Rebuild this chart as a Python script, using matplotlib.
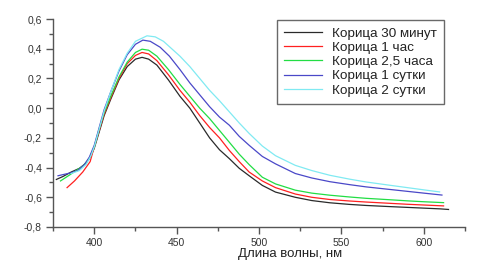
import matplotlib
matplotlib.use("Agg")
import matplotlib.pyplot as plt
from matplotlib.ticker import MultipleLocator, FuncFormatter

plt.rcParams["font.family"] = ["Liberation Sans", "DejaVu Sans"]

# =========================================================
# DATA
# =========================================================

labels = ["Корица 30 минут", "Корица 1 час", "Корица 2,5 часа",
          "Корица 1 сутки", "Корица 2 сутки"]
colors = ["#2a2a2a", "#ff2020", "#22dd44", "#4a48c8", "#80eaf2"]

wl_30min = [377, 381, 386, 391, 395, 398, 400, 403, 406, 410, 415, 420, 425,
            429, 433, 438, 445, 452, 458, 464, 470, 476, 482, 488, 494, 502,
            510, 522, 532, 543, 555, 565, 580, 590, 600, 610, 615]
ab_30min = [-0.48, -0.46, -0.43, -0.405, -0.37, -0.32, -0.27, -0.16, -0.05,
            0.06, 0.19, 0.28, 0.33, 0.342, 0.33, 0.29, 0.19, 0.08, -0.0,
            -0.1, -0.2, -0.28, -0.34, -0.405, -0.455, -0.52, -0.565, -0.6,
            -0.622, -0.637, -0.648, -0.655, -0.663, -0.668, -0.673, -0.678,
            -0.682]

wl_1h = [383.5, 388, 393, 397.5, 400, 403, 406, 410, 415, 420, 425, 429, 433,
         438, 445, 452, 458, 464, 470, 476, 482, 488, 494, 502, 510, 522, 532,
         543, 555, 565, 580, 590, 600, 612]
ab_1h = [-0.535, -0.49, -0.43, -0.36, -0.26, -0.15, -0.04, 0.07, 0.2, 0.3,
         0.355, 0.375, 0.365, 0.32, 0.225, 0.12, 0.04, -0.05, -0.13, -0.2,
         -0.285, -0.36, -0.43, -0.49, -0.535, -0.578, -0.6, -0.615, -0.625,
         -0.632, -0.641, -0.647, -0.652, -0.658]

wl_25h = [379.5, 385, 389, 393, 397, 400, 403, 406, 410, 415, 420, 425, 429,
          433, 438, 445, 452, 458, 464, 470, 476, 482, 488, 494, 502, 510, 522,
          532, 543, 555, 565, 580, 590, 600, 612]
ab_25h = [-0.49, -0.45, -0.42, -0.39, -0.34, -0.26, -0.14, -0.03, 0.08, 0.21,
          0.31, 0.375, 0.397, 0.39, 0.35, 0.26, 0.16, 0.08, 0.0, -0.07, -0.15,
          -0.23, -0.31, -0.38, -0.465, -0.51, -0.552, -0.572, -0.586, -0.598,
          -0.607, -0.617, -0.624, -0.63, -0.636]

wl_1d = [378, 382, 386, 390, 394, 397, 400, 403, 406, 410, 415, 420, 425,
         429.5, 434, 440, 445.6, 452, 458, 464, 470, 476, 482, 488, 494, 502,
         510, 522, 532, 543, 555, 565, 580, 590, 600, 611]
ab_1d = [-0.455, -0.445, -0.435, -0.42, -0.38, -0.33, -0.25, -0.13, -0.01,
         0.11, 0.25, 0.36, 0.43, 0.458, 0.45, 0.41, 0.35, 0.26, 0.17, 0.09,
         0.01, -0.06, -0.115, -0.19, -0.25, -0.325, -0.375, -0.44, -0.47,
         -0.495, -0.515, -0.53, -0.548, -0.56, -0.572, -0.585]

wl_2d = [386, 391, 395, 398, 400, 403, 406, 410, 415, 420, 425, 432, 437, 442,
         446, 452, 458, 464, 470, 476, 482, 488, 494, 502, 510, 522, 532, 543,
         555, 565, 580, 590, 600, 609.6]
ab_2d = [-0.44, -0.42, -0.38, -0.32, -0.26, -0.14, -0.02, 0.11, 0.26, 0.37,
         0.45, 0.487, 0.48, 0.45, 0.41, 0.35, 0.28, 0.2, 0.12, 0.05, -0.025,
         -0.1, -0.17, -0.255, -0.32, -0.385, -0.42, -0.452, -0.478, -0.497,
         -0.52, -0.535, -0.55, -0.564]

series = [(wl_30min, ab_30min), (wl_1h, ab_1h), (wl_25h, ab_25h),
          (wl_1d, ab_1d), (wl_2d, ab_2d)]

# =========================================================
# PLOT
# =========================================================

fig = plt.figure(figsize=(4.96, 2.68), dpi=100)
ax = fig.add_axes([0.107, 0.153, 0.8305, 0.776])

for (wl, ab), lab, col in zip(series, labels, colors):
    ax.plot(wl, ab, color=col, linewidth=0.9, label=lab)

ax.set_xlim(375, 625)
ax.set_ylim(-0.8, 0.6)
ax.xaxis.set_major_locator(MultipleLocator(50))
ax.xaxis.set_minor_locator(MultipleLocator(25))
ax.yaxis.set_major_locator(MultipleLocator(0.2))
ax.yaxis.set_minor_locator(MultipleLocator(0.1))
ax.yaxis.set_major_formatter(FuncFormatter(lambda v, p: f"{v:.1f}".replace(".", ",")))
ax.xaxis.set_major_formatter(FuncFormatter(lambda v, p: "" if v == 375 or v == 625 else f"{v:.0f}"))

for s in ["top", "right"]:
    ax.spines[s].set_visible(False)
for s in ["left", "bottom"]:
    ax.spines[s].set_color("#555555")
    ax.spines[s].set_linewidth(1.0)

ax.tick_params(which="major", length=5, width=1, color="#555555",
               labelsize=7.5, labelcolor="#333333", pad=3)
ax.tick_params(which="minor", length=3, width=1, color="#555555")

ax.set_xlabel("Длина волны, нм", fontsize=9.5, color="#222222")
ax.xaxis.set_label_coords(0.575, -0.1)

leg = ax.legend(loc="upper left", bbox_to_anchor=(277 / 496, 1 - 20 / 268),
                bbox_transform=fig.transFigure, fontsize=9.7,
                frameon=True, fancybox=False, handlelength=2.8,
                handletextpad=0.7, labelspacing=0.13, borderpad=0.55,
                borderaxespad=0)
leg.get_frame().set_edgecolor("#444444")
leg.get_frame().set_linewidth(1.0)
for t in leg.get_texts():
    t.set_color("#222222")

fig.savefig("out.png", dpi=100)
